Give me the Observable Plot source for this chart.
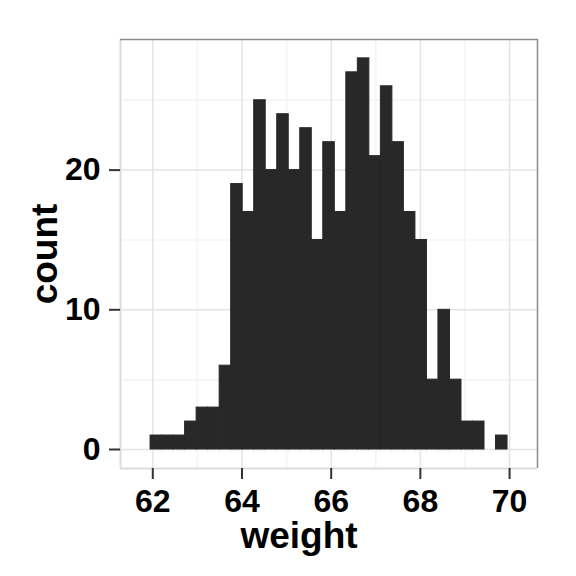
<!DOCTYPE html>
<html><head><meta charset="utf-8">
<script src="https://cdn.jsdelivr.net/npm/d3@7"></script>
<script src="https://cdn.jsdelivr.net/npm/@observablehq/plot@0.6"></script>
<style>body{margin:0;background:#fff;} svg{font-family:"Liberation Sans",Arial,sans-serif;}</style>
</head><body><div id="chart"></div>
<script>
const binStart = 61.95;
const binWidth = 0.2582;
const counts = [1,1,1,2,3,3,6,19,17,25,20,24,20,23,15,22,17,27,28,21,26,22,17,15,5,10,5,2,2,0,1];
const xTicks = [62,64,66,68,70];
const xMinor = [63,65,67,69];
const yTicks = [0,10,20];
const yMinor = [5,15,25];
const xDomain = [61.276, 70.626];
const yDomain = [-1.36, 29.35];
const xTitle = "weight";
const yTitle = "count";

const bins = counts.map((c, i) => ({x1: binStart + i * binWidth, x2: binStart + (i + 1) * binWidth, count: c}))
  .filter(d => d.count > 0);

const font = "'Liberation Sans', Arial, sans-serif";
const chart = Plot.plot({
  width: 576, height: 576,
  marginLeft: 120, marginRight: 39, marginTop: 39, marginBottom: 108,
  x: {domain: xDomain},
  y: {domain: yDomain},
  style: {fontFamily: font, background: "white", color: "black"},
  marks: [
    Plot.gridX(xMinor, {stroke: "#f4f4f4", strokeOpacity: 1, strokeWidth: 1.5}),
    Plot.gridY(yMinor, {stroke: "#f4f4f4", strokeOpacity: 1, strokeWidth: 1.5}),
    Plot.gridX(xTicks, {stroke: "#e4e4e4", strokeOpacity: 1, strokeWidth: 1.5}),
    Plot.gridY(yTicks, {stroke: "#e4e4e4", strokeOpacity: 1, strokeWidth: 1.5}),
    Plot.rectY(bins, {x1: "x1", x2: "x2", y1: 0, y2: "count", fill: "#282828", stroke: "#282828", strokeWidth: 1}),
    Plot.ruleX([xDomain[0]], {stroke: "#dcdcdc", strokeWidth: 2}),
    Plot.ruleY([yDomain[0]], {stroke: "#dcdcdc", strokeWidth: 2}),
    Plot.ruleX([xDomain[1]], {stroke: "#8a8a8a", strokeWidth: 1.5}),
    Plot.ruleY([yDomain[1]], {stroke: "#8a8a8a", strokeWidth: 1.5}),
    Plot.axisX(xTicks, {tickSize: 11, tickPadding: 10, fontSize: 32, fontWeight: "bold", stroke: "#333", strokeWidth: 2, fill: "black", label: null}),
    Plot.axisY(yTicks, {tickSize: 11, tickPadding: 9, fontSize: 32, fontWeight: "bold", stroke: "#333", strokeWidth: 2, fill: "black", label: null}),
    Plot.text([xTitle], {frameAnchor: "bottom", textAnchor: "middle", dx: -30, dy: 79, lineAnchor: "bottom", fontSize: 37, fontWeight: "bold", fill: "black"}),
    Plot.text([yTitle], {frameAnchor: "left", textAnchor: "middle", rotate: -90, dx: -64, lineAnchor: "bottom", fontSize: 37, fontWeight: "bold", fill: "black"})
  ]
});
document.getElementById("chart").appendChild(chart);
</script>
</body></html>
